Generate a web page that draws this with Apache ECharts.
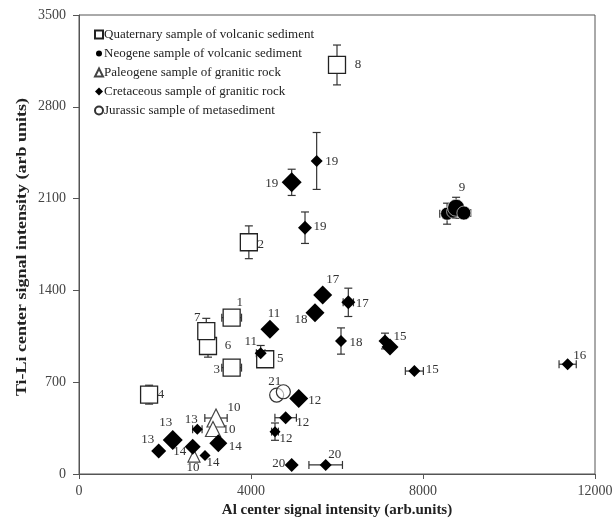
<!DOCTYPE html>
<html>
<head>
<meta charset="utf-8">
<script src="https://cdn.jsdelivr.net/npm/echarts@6/dist/echarts.min.js"></script>
<style>html,body{margin:0;padding:0;background:#fff}#c{width:616px;height:520px}</style>
</head>
<body>
<div id="c"></div>
<script>
// ---------- data ----------
const xTicks = [0, 4000, 8000, 12000];
const yTicks = [0, 700, 1400, 2100, 2800, 3500];

// Quaternary sample of volcanic sediment (open squares)
const quatX = [3550, 3950, 3550, 1630, 4330, 3000, 2960, 6000];
const quatY = [1192, 1767, 811, 605, 875, 976, 1090, 3119];
const quatLabels = ['1', '2', '3', '4', '5', '6', '7', '8'];
const quatXErr = [230, 0, 230, 0, 0, 0, 0, 60];
const quatYErr = [0, 125, 0, 72, 0, 85, 97, 152];

// Neogene sample of volcanic sediment (filled circles)
const neoX = [8560, 8700, 8770, 8950];
const neoY = [1985, 2000, 2030, 1990];
const neoLabels = ['', '', '9', ''];
const neoXErr = [170, 0, 0, 160];
const neoYErr = [80, 0, 80, 0];

// Paleogene sample of granitic rock (open triangles)
const paleoX = [3186, 3116, 2674];
const paleoY = [427, 343, 137];
const paleoLabels = ['10', '10', '10'];
const paleoXErr = [260, 0, 0];
const paleoYErr = [0, 0, 0];

// Cretaceous sample of granitic rock (filled diamonds)
const cretX = [2180, 1853, 2752, 2644, 2930, 3240, 4558, 4806, 5110, 4946, 5737, 4440, 4225, 5667, 6263, 5488, 6093, 5527, 4946, 5256, 7116, 7233, 7799, 11364];
const cretY = [259, 175, 341, 208, 142, 234, 323, 429, 575, 69, 69, 1103, 920, 1365, 1309, 1230, 1014, 2387, 2224, 1878, 1014, 968, 785, 837];
const cretLabels = ['13', '13', '13', '14', '14', '14', '12', '12', '12', '20', '20', '11', '11', '17', '17', '18', '18', '19', '19', '19', '15', '', '15', '16'];
const cretXErr = [0, 0, 110, 0, 0, 0, 80, 250, 0, 0, 390, 100, 100, 0, 120, 0, 0, 0, 0, 0, 0, 0, 210, 200];
const cretYErr = [0, 0, 0, 0, 0, 0, 66, 0, 0, 0, 0, 0, 60, 0, 108, 0, 100, 217, 100, 120, 60, 0, 0, 0];

// Jurassic sample of metasediment (open circles)
const jurX = [4597, 4752];
const jurY = [602, 627];
const jurLabels = ['21', ''];

// ---------- styles (sizes / label offsets) ----------
const quatSizes = [17, 17, 17, 17, 17, 17, 17, 17];
const quatOffsets = [[8, -15], [12, 2], [-15, 2], [12, 0], [15, -1], [20, 0], [-9, -13], [21, 0]];
const neoSizes = [13, 13, 17, 14];
const neoOffsets = [[0, 0], [0, 0], [6, -20], [0, 0]];
const paleoSizes = [18, 15, 12];
const paleoOffsets = [[18, -10], [16, 1], [-1, 12]];
const cretSizes = [20, 15, 11, 16, 11, 18, 11, 13, 19, 14, 12, 19, 12, 19, 14, 19, 12, 12, 20, 14, 13, 17, 12, 12];
const cretOffsets = [[-7, -17], [-11, -11], [-6, -10], [-13, 5], [8, 7], [17, 3], [11, 7], [17, 5], [16, 2], [-13, -1], [9, -10], [4, -16], [-10, -12], [10, -15], [14, 1], [-14, 7], [15, 2], [15, 1], [-20, 1], [15, -1], [15, -4], [0, 0], [18, -1], [12, -9]];
const jurSizes = [14, 14];
const jurOffsets = [[-2, -13], [0, 0]];

const FONT = '"Liberation Serif", "Times New Roman", serif';
const TXT = '#333';

function pts(xs, ys, labels, sizes, offsets) {
  return xs.map((x, i) => ({
    value: [x, ys[i]],
    symbolSize: sizes[i],
    label: {
      show: labels[i] !== '',
      formatter: labels[i],
      position: 'inside',
      offset: offsets[i]
    }
  }));
}
function errs(xs, ys, xe, ye) {
  return xs.map((x, i) => [x, ys[i], xe[i], ye[i]]);
}
const allErr = [].concat(
  errs(quatX, quatY, quatXErr, quatYErr),
  errs(neoX, neoY, neoXErr, neoYErr),
  errs(paleoX, paleoY, paleoXErr, paleoYErr),
  errs(cretX, cretY, cretXErr, cretYErr)
);

const labelStyle = { fontFamily: FONT, fontSize: 13, color: TXT, align: 'center', verticalAlign: 'middle' };

const chart = echarts.init(document.getElementById('c'), null, { renderer: 'canvas' });
chart.setOption({
  animation: false,
  backgroundColor: '#fff',
  grid: { left: 79, right: 21, top: 15, bottom: 46, show: true, borderColor: '#555', borderWidth: 1, containLabel: false, outerBoundsMode: 'none' },
  legend: {
    orient: 'vertical', left: 89, top: 23, itemWidth: 8, itemHeight: 8, itemGap: 6,
    textStyle: { fontFamily: FONT, fontSize: 13, color: '#222', padding: [0, 0, 0, -4] },
    data: [
      'Quaternary sample of volcanic sediment',
      'Neogene sample of volcanic sediment',
      'Paleogene sample of granitic rock',
      'Cretaceous sample of granitic rock',
      'Jurassic sample of metasediment'
    ]
  },
  graphic: [
    {
      type: 'text', x: 22, y: 247, rotation: Math.PI / 2, scaleX: 1.2, silent: true,
      style: {
        text: 'Ti-Li center signal intensity (arb units)',
        font: 'bold 15px "Liberation Serif", "Times New Roman", serif',
        fill: '#222', textAlign: 'center', textVerticalAlign: 'middle'
      }
    }
  ],
  xAxis: {
    type: 'value', min: xTicks[0], max: xTicks[xTicks.length - 1], interval: xTicks[1] - xTicks[0],
    name: 'Al center signal intensity (arb.units)', nameLocation: 'middle', nameGap: 23,
    nameTextStyle: { fontFamily: FONT, fontSize: 15, fontWeight: 'bold', color: '#222' },
    axisLine: { lineStyle: { color: '#555', width: 1 } },
    axisTick: { show: true, length: 5, lineStyle: { color: '#555' } },
    axisLabel: { fontFamily: FONT, fontSize: 14, color: '#444', margin: 10, formatter: v => String(v) },
    splitLine: { show: false }
  },
  yAxis: {
    type: 'value', min: yTicks[0], max: yTicks[yTicks.length - 1], interval: yTicks[1] - yTicks[0],
    axisLine: { lineStyle: { color: '#555', width: 1 } },
    axisTick: { show: true, length: 6, lineStyle: { color: '#555' } },
    axisLabel: { fontFamily: FONT, fontSize: 14, color: '#444', margin: 13, formatter: v => String(v) },
    splitLine: { show: false }
  },
  series: [
    {
      type: 'custom', name: 'err', silent: true, z: 1,
      data: allErr,
      renderItem: function (params, api) {
        const x = api.value(0), y = api.value(1), xe = api.value(2), ye = api.value(3);
        const c = api.coord([x, y]);
        const children = [];
        const st = { stroke: '#333', lineWidth: 1.2 };
        const cap = 4;
        if (ye > 0) {
          const t = api.coord([x, y + ye]), b = api.coord([x, y - ye]);
          children.push({ type: 'line', shape: { x1: c[0], y1: t[1], x2: c[0], y2: b[1] }, style: st });
          children.push({ type: 'line', shape: { x1: c[0] - cap, y1: t[1], x2: c[0] + cap, y2: t[1] }, style: st });
          children.push({ type: 'line', shape: { x1: c[0] - cap, y1: b[1], x2: c[0] + cap, y2: b[1] }, style: st });
        }
        if (xe > 0) {
          const l = api.coord([x - xe, y]), r = api.coord([x + xe, y]);
          children.push({ type: 'line', shape: { x1: l[0], y1: c[1], x2: r[0], y2: c[1] }, style: st });
          children.push({ type: 'line', shape: { x1: l[0], y1: c[1] - cap, x2: l[0], y2: c[1] + cap }, style: st });
          children.push({ type: 'line', shape: { x1: r[0], y1: c[1] - cap, x2: r[0], y2: c[1] + cap }, style: st });
        }
        return { type: 'group', children: children };
      }
    },
    {
      type: 'scatter', name: 'Quaternary sample of volcanic sediment', symbol: 'rect', z: 3,
      itemStyle: { color: '#fff', borderColor: '#222', borderWidth: 1.3, opacity: 1 },
      label: labelStyle,
      data: pts(quatX, quatY, quatLabels, quatSizes, quatOffsets)
    },
    {
      type: 'scatter', name: 'Neogene sample of volcanic sediment', symbol: 'circle', z: 3,
      itemStyle: { color: '#000', borderColor: '#fff', borderWidth: 0.6, opacity: 1 },
      label: labelStyle,
      data: pts(neoX, neoY, neoLabels, neoSizes, neoOffsets)
    },
    {
      type: 'scatter', name: 'Paleogene sample of granitic rock', symbol: 'triangle', z: 3,
      itemStyle: { color: '#fff', borderColor: '#444', borderWidth: 1.2, opacity: 1 },
      label: labelStyle,
      data: pts(paleoX, paleoY, paleoLabels, paleoSizes, paleoOffsets)
    },
    {
      type: 'scatter', name: 'Cretaceous sample of granitic rock', symbol: 'diamond', z: 3,
      itemStyle: { color: '#000', borderColor: '#000', borderWidth: 0, opacity: 1 },
      label: labelStyle,
      data: pts(cretX, cretY, cretLabels, cretSizes, cretOffsets)
    },
    {
      type: 'scatter', name: 'Jurassic sample of metasediment', symbol: 'circle', z: 3,
      itemStyle: { color: 'rgba(255,255,255,0.6)', borderColor: '#333', borderWidth: 1.2, opacity: 1 },
      label: labelStyle,
      data: pts(jurX, jurY, jurLabels, jurSizes, jurOffsets)
    }
  ]
});
</script>
</body>
</html>
